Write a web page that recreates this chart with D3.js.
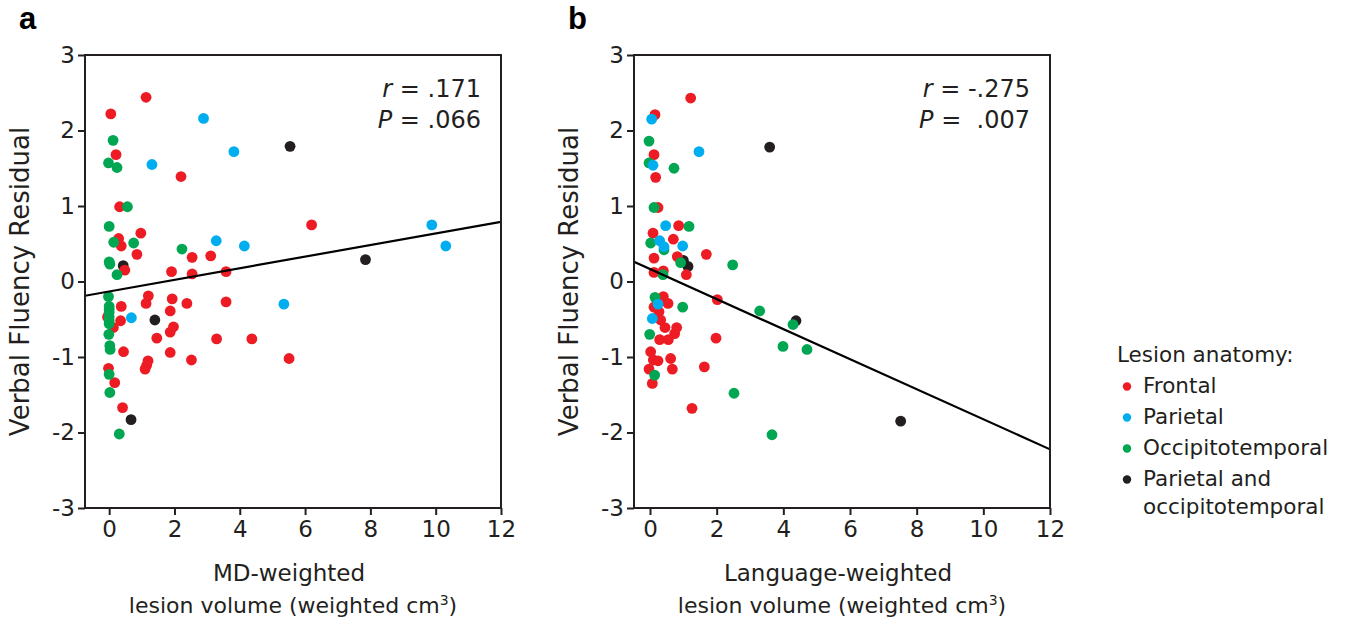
<!DOCTYPE html>
<html>
<head>
<meta charset="utf-8">
<script src="https://cdn.jsdelivr.net/npm/d3@7"></script>
<style>
  body { margin: 0; background: #fff; }
  svg { display: block; font-family: "DejaVu Sans", Verdana, sans-serif; }
</style>
</head>
<body>
<svg id="chart" width="1350" height="620"></svg>
<script>
// lesion groups, in legend order
const categories = ["Frontal", "Parietal", "Occipitotemporal", "Parietal and occipitotemporal"];
const catColors = ["#ed1c24", "#00aeef", "#00a651", "#231f20"];

// panel a: MD-weighted lesion volume vs residual  [x, y]
const aFrontal = [[1.13,2.44],[0.05,2.22],[0.21,1.68],[2.2,1.39],[0.32,0.99],[0.97,0.64],[0.29,0.57],[0.37,0.47],
  [0.85,0.36],[2.54,0.32],[3.11,0.34],[0.48,0.15],[1.91,0.13],[2.54,0.1],[3.58,0.13],[6.2,0.75],
  [-0.05,-0.47],[0.13,-0.61],[0.37,-0.33],[0.35,-0.52],[1.2,-0.19],[1.13,-0.29],[1.93,-0.23],[1.87,-0.39],
  [2.38,-0.29],[3.58,-0.27],[1.97,-0.6],[1.87,-0.67],[1.46,-0.75],[3.29,-0.76],[4.37,-0.76],[0.44,-0.93],
  [1.87,-0.94],[2.52,-1.04],[1.19,-1.05],[1.15,-1.11],[1.1,-1.16],[-0.02,-1.15],[0.17,-1.34],[0.41,-1.67],[5.51,-1.02]];
const aParietal = [[2.89,2.16],[3.82,1.72],[1.31,1.55],[3.28,0.54],[4.14,0.47],[9.88,0.75],[10.31,0.47],[0.68,-0.48],[5.35,-0.3]];
const aOccipital = [[0.12,1.87],[-0.02,1.57],[0.24,1.51],[0.56,0.99],[0.0,0.73],[0.14,0.52],[0.75,0.51],[2.23,0.43],
  [0.0,0.26],[0.02,0.23],[0.24,0.09],[-0.02,-0.2],[0,-0.33],[0,-0.37],[0,-0.41],[0,-0.47],[0,-0.52],[0,-0.56],
  [-0.01,-0.7],[0.02,-0.85],[0.03,-0.9],[0,-1.23],[0.02,-1.47],[0.31,-2.02]];
const aBoth = [[5.54,1.79],[7.85,0.29],[0.43,0.21],[1.4,-0.51],[0.67,-1.83]];

// panel b: language-weighted lesion volume vs residual
const bFrontal = [[1.22,2.43],[0.15,2.21],[0.12,1.68],[0.17,1.38],[0.24,0.98],[0.86,0.74],[0.09,0.64],[0.7,0.56],
  [1.69,0.36],[0.12,0.31],[0.82,0.33],[0.12,0.12],[0.4,0.14],[1.09,0.09],
  [0.4,-0.2],[0.54,-0.29],[0.12,-0.34],[0.27,-0.4],[0.32,-0.51],[0.45,-0.61],[0.8,-0.61],[0.74,-0.69],
  [0.29,-0.77],[0.55,-0.77],[1.98,-0.75],[2.02,-0.24],[0.02,-0.93],[0.1,-1.04],[0.24,-1.05],[0.62,-1.02],
  [-0.03,-1.16],[0.67,-1.16],[1.63,-1.13],[0.07,-1.35],[1.26,-1.68]];
const bParietal = [[0.05,2.15],[1.47,1.72],[0.09,1.54],[0.47,0.74],[0.29,0.54],[0.42,0.46],[0.98,0.47],[0.24,-0.3],[0.07,-0.49]];
const bOccipital = [[-0.03,1.86],[-0.03,1.57],[0.72,1.5],[0.12,0.98],[1.17,0.73],[0.02,0.51],[0.42,0.42],[0.92,0.25],
  [2.48,0.22],[0.39,0.09],[0.15,-0.21],[0.98,-0.34],[3.29,-0.39],[4.29,-0.57],[3.99,-0.86],[4.71,-0.9],
  [-0.01,-0.7],[0.14,-1.24],[2.52,-1.48],[3.66,-2.03]];
const bBoth = [[3.59,1.78],[1.0,0.28],[1.14,0.2],[4.38,-0.52],[7.52,-1.85]];

// fitted lines: intercept, slope
const aFit = [-0.132, 0.0769];
const bFit = [0.165, -0.199];

const xTicks = [0, 2, 4, 6, 8, 10, 12];
const yTicks = [-3, -2, -1, 0, 1, 2, 3];

const panels = [
  { letter: "a", left: 85, xmin: -0.74, series: [aFrontal, aParietal, aOccipital, aBoth], fit: aFit,
    stats: ["r", " = .171", "P", " = .066"], xlab: ["MD-weighted", "lesion volume (weighted cm"] },
  { letter: "b", left: 634, xmin: -0.48, series: [bFrontal, bParietal, bOccipital, bBoth], fit: bFit,
    stats: ["r", " = -.275", "P", " =  .007"], xlab: ["Language-weighted", "lesion volume (weighted cm"] }
];

const svg = d3.select("#chart");
const ink = "#231f20";
const plotTop = 55, plotBottom = 508, plotW = 416;
// black first, then red, green, blue on top
const drawOrder = [3, 0, 2, 1];

panels.forEach((p, pi) => {
  const x = d3.scaleLinear().domain([p.xmin, 12]).range([p.left, p.left + plotW]);
  const y = d3.scaleLinear().domain([-3, 3]).range([plotBottom, plotTop]);
  const g = svg.append("g");

  g.append("defs").append("clipPath").attr("id", "clip" + pi)
    .append("rect").attr("x", p.left).attr("y", plotTop).attr("width", plotW).attr("height", plotBottom - plotTop);

  // points
  drawOrder.forEach(ci => {
    g.append("g").selectAll("circle")
      .data(p.series[ci])
      .join("circle")
      .attr("cx", d => x(d[0]))
      .attr("cy", d => y(d[1]))
      .attr("r", 5.4)
      .attr("fill", catColors[ci]);
  });

  // regression line
  g.append("line")
    .attr("clip-path", `url(#clip${pi})`)
    .attr("x1", x(p.xmin)).attr("y1", y(p.fit[0] + p.fit[1] * p.xmin))
    .attr("x2", x(12)).attr("y2", y(p.fit[0] + p.fit[1] * 12))
    .attr("stroke", "#000").attr("stroke-width", 2.2);

  // frame
  g.append("rect")
    .attr("x", p.left).attr("y", plotTop).attr("width", plotW).attr("height", plotBottom - plotTop)
    .attr("fill", "none").attr("stroke", ink).attr("stroke-width", 2);

  const yAxis = g.append("g").attr("transform", `translate(${p.left},0)`)
    .call(d3.axisLeft(y).tickValues(yTicks).tickFormat(String).tickSize(7).tickSizeOuter(0).tickPadding(3));
  const xAxis = g.append("g").attr("transform", `translate(0,${plotBottom})`)
    .call(d3.axisBottom(x).tickValues(xTicks).tickFormat(String).tickSize(7).tickSizeOuter(0).tickPadding(6));
  [yAxis, xAxis].forEach(ax => {
    ax.select(".domain").remove();
    ax.selectAll("line").attr("stroke", ink).attr("stroke-width", 2);
    ax.selectAll("text").attr("fill", ink).style("font-size", "23px").style("font-family", "DejaVu Sans, sans-serif");
  });

  // stats text
  [[p.stats[0], p.stats[1], 97], [p.stats[2], p.stats[3], 128]].forEach(([it, rest, yy]) => {
    const t = g.append("text").attr("x", p.left + 396).attr("y", yy).attr("text-anchor", "end")
      .attr("fill", ink).style("font-size", "24px").style("white-space", "pre");
    t.append("tspan").style("font-style", "italic").text(it);
    t.append("tspan").text(rest);
  });

  // axis titles
  g.append("text")
    .attr("transform", `translate(${p.left - 56},${(plotTop + plotBottom) / 2}) rotate(-90)`)
    .attr("text-anchor", "middle").attr("fill", ink).style("font-size", "26px")
    .text("Verbal Fluency Residual");
  const cx = p.left + plotW / 2;
  g.append("text").attr("x", cx - 4).attr("y", 581).attr("text-anchor", "middle").attr("fill", ink)
    .style("font-size", "23px").text(p.xlab[0]);
  const l2 = g.append("text").attr("x", cx).attr("y", 613).attr("text-anchor", "middle").attr("fill", ink)
    .style("font-size", "22px");
  l2.append("tspan").text(p.xlab[1]);
  l2.append("tspan").attr("dy", -8).style("font-size", "14px").text("3");
  l2.append("tspan").attr("dy", 8).text(")");

  // panel letter
  svg.append("text").attr("x", p.left - 66).attr("y", 29).attr("fill", "#000")
    .style("font-size", "31px").style("font-weight", "bold").style("font-family", "Liberation Sans, sans-serif")
    .text(p.letter);
});

// legend
const lg = svg.append("g").attr("fill", ink).style("font-size", "21.5px");
lg.append("text").attr("x", 1117).attr("y", 362).text("Lesion anatomy:");
const legLines = [[0, 393], [1, 424], [2, 455], [3, 486]];
legLines.forEach(([ci, yy]) => {
  lg.append("circle").attr("cx", 1127).attr("cy", yy - 6.5).attr("r", 4.2).attr("fill", catColors[ci]);
  const words = ci === 3 ? ["Parietal and", "occipitotemporal"] : [categories[ci]];
  words.forEach((w, wi) => {
    lg.append("text").attr("x", 1143).attr("y", yy + wi * 28).text(w);
  });
});
</script>
</body>
</html>
